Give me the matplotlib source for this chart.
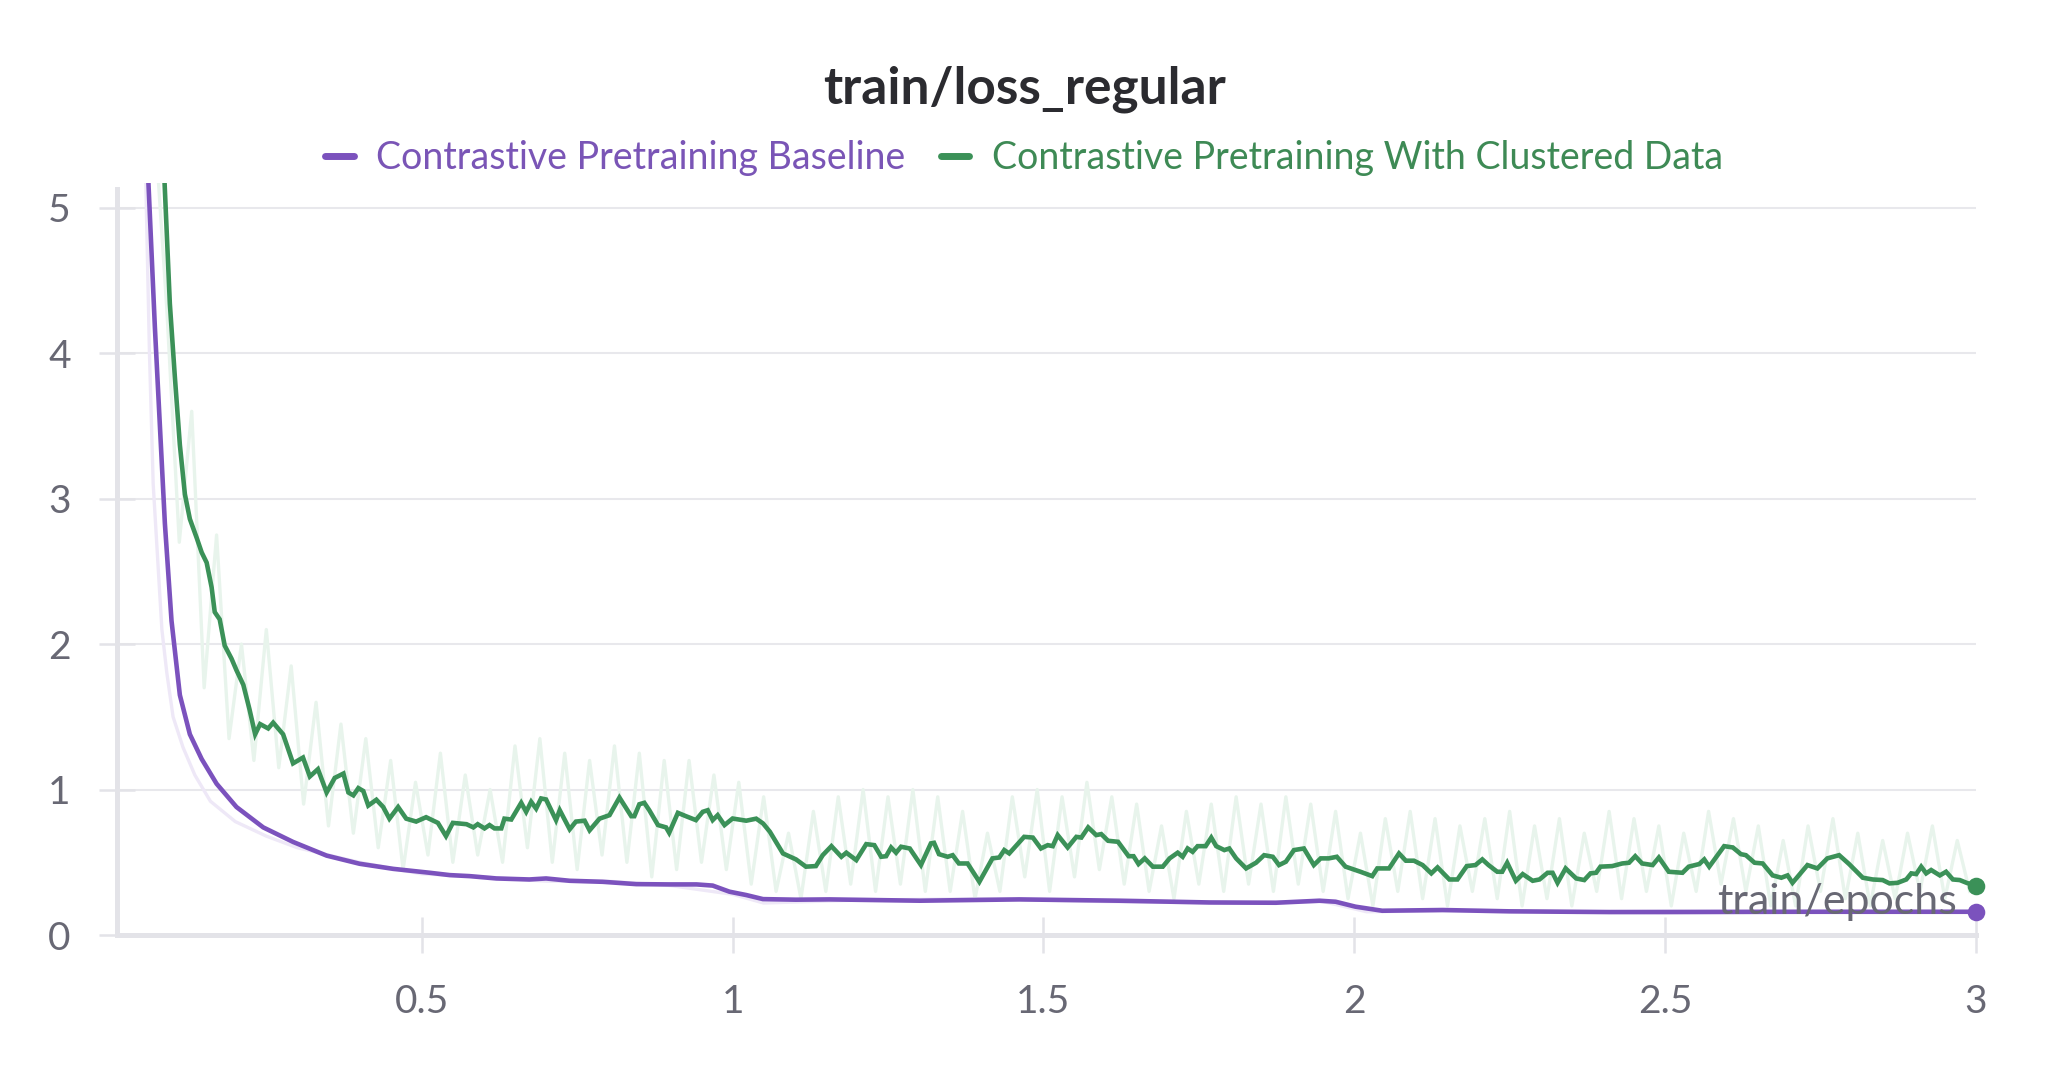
"""Recreate the W&B style chart of train/loss_regular over train/epochs."""

import numpy as np
import matplotlib
matplotlib.use("Agg")
import matplotlib.pyplot as plt
from matplotlib.lines import Line2D

plt.rcParams['font.family'] = ['Lato', 'DejaVu Sans']

TITLE = 'train/loss_regular'
X_LABEL = 'train/epochs'
SERIES_NAMES = ['Contrastive Pretraining Baseline',
                'Contrastive Pretraining With Clustered Data']

X_TICKS = [0.5, 1, 1.5, 2, 2.5, 3]
X_TICK_LABELS = ['0.5', '1', '1.5', '2', '2.5', '3']
Y_TICKS = [0, 1, 2, 3, 4, 5]

# baseline, smoothed curve (epoch, loss)
baseline_epochs = [0.059, 0.0707, 0.0788, 0.0868, 0.0975, 0.1109, 0.127, 0.146,
                   0.170, 0.202, 0.245, 0.293, 0.347, 0.400, 0.454, 0.513,
                   0.545, 0.577, 0.620, 0.673, 0.700, 0.738, 0.791, 0.845,
                   0.899, 0.942, 0.968, 0.995, 1.022, 1.049, 1.102, 1.156,
                   1.301, 1.461, 1.622, 1.767, 1.874, 1.944, 1.970, 2.002,
                   2.045, 2.142, 2.249, 2.410, 2.715, 3.000]
baseline_loss = [5.30, 4.18, 3.50, 2.83, 2.16, 1.65, 1.38, 1.21,
                 1.04, 0.88, 0.74, 0.64, 0.546, 0.49, 0.455, 0.428,
                 0.412, 0.405, 0.389, 0.382, 0.389, 0.373, 0.366, 0.350,
                 0.348, 0.348, 0.340, 0.298, 0.275, 0.247, 0.243, 0.245,
                 0.236, 0.245, 0.236, 0.224, 0.222, 0.236, 0.229, 0.195,
                 0.167, 0.172, 0.163, 0.158, 0.160, 0.160]

# baseline, raw values (faint)
baseline_raw_epochs = [0.055, 0.062, 0.068, 0.075, 0.082, 0.09, 0.10, 0.116,
                       0.135, 0.16, 0.20, 0.25, 0.30, 0.40, 0.50, 0.60, 0.70,
                       0.80, 0.90, 1.00, 1.05, 1.20, 1.40, 1.60, 1.80, 1.95,
                       2.02, 2.20, 2.50, 2.80, 3.00]
baseline_raw_loss = [5.40, 4.00, 3.10, 2.60, 2.10, 1.80, 1.50, 1.29,
                     1.10, 0.92, 0.78, 0.68, 0.60, 0.50, 0.42, 0.40, 0.37,
                     0.37, 0.34, 0.28, 0.22, 0.24, 0.25, 0.23, 0.22, 0.23,
                     0.16, 0.17, 0.15, 0.16, 0.16]

# clustered data, smoothed curve (epoch, loss)
clustered_epochs = [
    0.085, 0.0948, 0.1028, 0.1109, 0.119, 0.127, 0.138, 0.146, 0.154, 0.162,
    0.167, 0.175, 0.183, 0.194, 0.202, 0.213, 0.223, 0.232, 0.240, 0.253,
    0.261, 0.277, 0.293, 0.309, 0.320, 0.333, 0.347, 0.360, 0.374, 0.382,
    0.390, 0.398, 0.406, 0.414, 0.427, 0.438, 0.448, 0.462, 0.475, 0.491,
    0.507, 0.526, 0.539, 0.550, 0.572, 0.583, 0.590, 0.601, 0.609, 0.617,
    0.628, 0.633, 0.644, 0.660, 0.668, 0.676, 0.684, 0.692, 0.700, 0.716,
    0.722, 0.738, 0.748, 0.762, 0.770, 0.786, 0.802, 0.818, 0.837, 0.842,
    0.850, 0.858, 0.866, 0.880, 0.893, 0.898, 0.912, 0.925, 0.941, 0.952,
    0.960, 0.968, 0.976, 0.987, 1.000, 1.022, 1.038, 1.049, 1.060, 1.081,
    1.102, 1.118, 1.134, 1.145, 1.159, 1.175, 1.183, 1.199, 1.215, 1.228,
    1.239, 1.247, 1.255, 1.263, 1.271, 1.285, 1.303, 1.319, 1.324, 1.332,
    1.346, 1.354, 1.364, 1.378, 1.397, 1.418, 1.429, 1.437, 1.445, 1.469,
    1.483, 1.496, 1.507, 1.515, 1.523, 1.539, 1.553, 1.561, 1.572, 1.585,
    1.593, 1.604, 1.620, 1.637, 1.645, 1.653, 1.663, 1.676, 1.692, 1.703,
    1.716, 1.724, 1.732, 1.740, 1.748, 1.761, 1.770, 1.778, 1.791, 1.799,
    1.810, 1.826, 1.842, 1.855, 1.869, 1.879, 1.890, 1.903, 1.919, 1.935,
    1.946, 1.959, 1.972, 1.986, 2.010, 2.029, 2.037, 2.056, 2.072, 2.083,
    2.096, 2.110, 2.124, 2.134, 2.153, 2.166, 2.181, 2.195, 2.206, 2.216,
    2.230, 2.238, 2.246, 2.260, 2.271, 2.287, 2.298, 2.311, 2.319, 2.327,
    2.340, 2.357, 2.370, 2.380, 2.389, 2.396, 2.415, 2.431, 2.442, 2.452,
    2.463, 2.480, 2.490, 2.506, 2.528, 2.538, 2.555, 2.563, 2.571, 2.595,
    2.609, 2.622, 2.630, 2.644, 2.657, 2.673, 2.687, 2.697, 2.705, 2.729,
    2.745, 2.761, 2.780, 2.796, 2.818, 2.834, 2.850, 2.861, 2.874, 2.888,
    2.896, 2.904, 2.912, 2.920, 2.928, 2.942, 2.952, 2.963, 2.974, 2.985,
    3.000]
clustered_loss = [
    5.30, 4.34, 3.84, 3.37, 3.03, 2.86, 2.73, 2.63, 2.56, 2.39,
    2.22, 2.17, 1.99, 1.90, 1.82, 1.72, 1.55, 1.38, 1.45, 1.42,
    1.46, 1.38, 1.18, 1.22, 1.09, 1.14, 0.98, 1.08, 1.11, 0.98,
    0.96, 1.01, 0.99, 0.89, 0.93, 0.88, 0.80, 0.88, 0.80, 0.78,
    0.81, 0.771, 0.680, 0.771, 0.762, 0.740, 0.762, 0.733, 0.756, 0.733,
    0.733, 0.800, 0.794, 0.909, 0.847, 0.916, 0.869, 0.939, 0.932, 0.790,
    0.858, 0.727, 0.780, 0.786, 0.720, 0.800, 0.824, 0.945, 0.817, 0.817,
    0.899, 0.909, 0.858, 0.756, 0.740, 0.703, 0.840, 0.817, 0.790, 0.847,
    0.858, 0.790, 0.824, 0.756, 0.801, 0.786, 0.800, 0.767, 0.710, 0.561,
    0.520, 0.470, 0.474, 0.549, 0.611, 0.538, 0.566, 0.515, 0.625, 0.618,
    0.538, 0.542, 0.602, 0.566, 0.607, 0.595, 0.481, 0.630, 0.634, 0.556,
    0.538, 0.549, 0.492, 0.492, 0.366, 0.527, 0.533, 0.584, 0.561, 0.675,
    0.670, 0.595, 0.618, 0.611, 0.687, 0.602, 0.675, 0.670, 0.740, 0.687,
    0.694, 0.648, 0.641, 0.542, 0.542, 0.488, 0.527, 0.470, 0.470, 0.527,
    0.566, 0.538, 0.595, 0.572, 0.611, 0.611, 0.670, 0.611, 0.584, 0.595,
    0.527, 0.458, 0.497, 0.549, 0.538, 0.481, 0.504, 0.584, 0.595, 0.481,
    0.527, 0.527, 0.538, 0.470, 0.435, 0.405, 0.458, 0.458, 0.561, 0.511,
    0.511, 0.481, 0.424, 0.465, 0.382, 0.382, 0.474, 0.481, 0.520, 0.481,
    0.435, 0.435, 0.497, 0.373, 0.419, 0.373, 0.382, 0.428, 0.428, 0.359,
    0.458, 0.389, 0.378, 0.424, 0.428, 0.470, 0.474, 0.492, 0.497, 0.542,
    0.492, 0.481, 0.533, 0.435, 0.428, 0.470, 0.488, 0.520, 0.470, 0.611,
    0.602, 0.556, 0.549, 0.497, 0.492, 0.410, 0.394, 0.410, 0.359, 0.481,
    0.458, 0.527, 0.549, 0.488, 0.394, 0.382, 0.378, 0.355, 0.359, 0.382,
    0.424, 0.419, 0.470, 0.424, 0.447, 0.410, 0.435, 0.382, 0.378, 0.359,
    0.337]

# clustered data, raw values (faint), one every 0.02 epoch from 0.07
clustered_raw_start, clustered_raw_step = 0.07, 0.02
clustered_raw_loss = [
    5.60, 4.30, 2.70, 3.60, 1.70, 2.75, 1.35, 2.00, 1.20, 2.10,
    1.15, 1.85, 0.90, 1.60, 0.75, 1.45, 0.70, 1.35, 0.60, 1.20,
    0.45, 1.05, 0.55, 1.25, 0.50, 1.10, 0.55, 1.00, 0.50, 1.30,
    0.60, 1.35, 0.50, 1.25, 0.45, 1.20, 0.55, 1.30, 0.50, 1.25,
    0.40, 1.20, 0.45, 1.20, 0.50, 1.10, 0.45, 1.05, 0.35, 0.95,
    0.30, 0.70, 0.25, 0.85, 0.30, 0.95, 0.35, 1.00, 0.30, 0.95,
    0.35, 1.00, 0.30, 0.95, 0.30, 0.85, 0.25, 0.70, 0.30, 0.95,
    0.40, 1.00, 0.30, 0.95, 0.40, 1.05, 0.45, 0.95, 0.35, 0.90,
    0.30, 0.75, 0.25, 0.85, 0.35, 0.90, 0.30, 0.95, 0.35, 0.90,
    0.30, 0.95, 0.35, 0.90, 0.30, 0.85, 0.25, 0.70, 0.20, 0.80,
    0.30, 0.85, 0.25, 0.80, 0.20, 0.75, 0.30, 0.80, 0.25, 0.85,
    0.20, 0.75, 0.25, 0.80, 0.20, 0.70, 0.30, 0.85, 0.25, 0.80,
    0.30, 0.75, 0.20, 0.70, 0.30, 0.85, 0.35, 0.80, 0.30, 0.75,
    0.20, 0.65, 0.20, 0.75, 0.30, 0.80, 0.25, 0.70, 0.20, 0.65,
    0.25, 0.70, 0.30, 0.75, 0.25, 0.65, 0.30]

PURPLE = '#7b52bd'
GREEN = '#3b9158'
PURPLE_FAINT = '#eee8f7'
GREEN_FAINT = '#e8f4ec'
AXIS_GRAY = '#e3e3e8'
GRID_GRAY = '#e8e8ec'
TEXT_GRAY = '#686874'


def main():
    fig = plt.figure(figsize=(20.48, 10.76), dpi=100)
    ax = fig.add_axes([0.0571, 0.131, 0.9077, 0.699])

    raw_epochs = clustered_raw_start + clustered_raw_step * np.arange(len(clustered_raw_loss))

    # faint raw series first, smoothed on top
    ax.plot(baseline_raw_epochs, baseline_raw_loss, color=PURPLE_FAINT, lw=2.4, zorder=2)
    ax.plot(raw_epochs, clustered_raw_loss, color=GREEN_FAINT, lw=2.4, zorder=2)
    ax.plot(baseline_epochs, baseline_loss, color=PURPLE, lw=3.3, zorder=4,
            solid_joinstyle='miter')
    ax.plot(clustered_epochs, clustered_loss, color=GREEN, lw=3.3, zorder=3,
            solid_joinstyle='miter')

    # end-point dots
    ax.scatter([baseline_epochs[-1]], [baseline_loss[-1]], s=160, color=PURPLE,
               zorder=5, clip_on=False, linewidths=0)
    ax.scatter([clustered_epochs[-1]], [clustered_loss[-1]], s=160, color=GREEN,
               zorder=5, clip_on=False, linewidths=0)

    ax.set_xlim(0.0097, 3.0)
    ax.set_ylim(0, 5.17)

    ax.set_xticks(X_TICKS)
    ax.set_xticklabels(X_TICK_LABELS)
    ax.set_yticks(Y_TICKS)

    ax.tick_params(axis='both', direction='inout', length=26.6, width=1.8,
                   color=AXIS_GRAY, labelsize=28, labelcolor=TEXT_GRAY)
    ax.tick_params(axis='x', pad=22)
    ax.tick_params(axis='y', pad=20)

    ax.set_axisbelow(True)
    ax.yaxis.grid(True, color=GRID_GRAY, lw=1.5)

    for side in ('top', 'right'):
        ax.spines[side].set_visible(False)
    for side in ('left', 'bottom'):
        ax.spines[side].set_color(AXIS_GRAY)
        ax.spines[side].set_linewidth(3.6)
    ax.spines['left'].set_bounds(0, 5.13)

    # axis name sits inside the plot, over the lines
    ax.text(0.99, 0.044, X_LABEL, transform=ax.transAxes, fontsize=31,
            color=TEXT_GRAY, ha='right', va='center', zorder=6)

    fig.suptitle(TITLE, x=0.5, y=0.917, va='center', fontsize=37,
                 fontweight='bold', color='#2b2b30')

    handles = [Line2D([0], [0], color=PURPLE, lw=5, solid_capstyle='round'),
               Line2D([0], [0], color=GREEN, lw=5, solid_capstyle='round')]
    leg = fig.legend(handles, SERIES_NAMES, loc='center', bbox_to_anchor=(0.5, 0.853),
                     ncol=2, frameon=False, fontsize=27, handlelength=0.75,
                     handletextpad=0.6, columnspacing=0.95)
    for text, col in zip(leg.get_texts(), ['#7a55b6', '#3e8a55']):
        text.set_color(col)

    fig.savefig('out.png', dpi=100)


if __name__ == '__main__':
    main()
